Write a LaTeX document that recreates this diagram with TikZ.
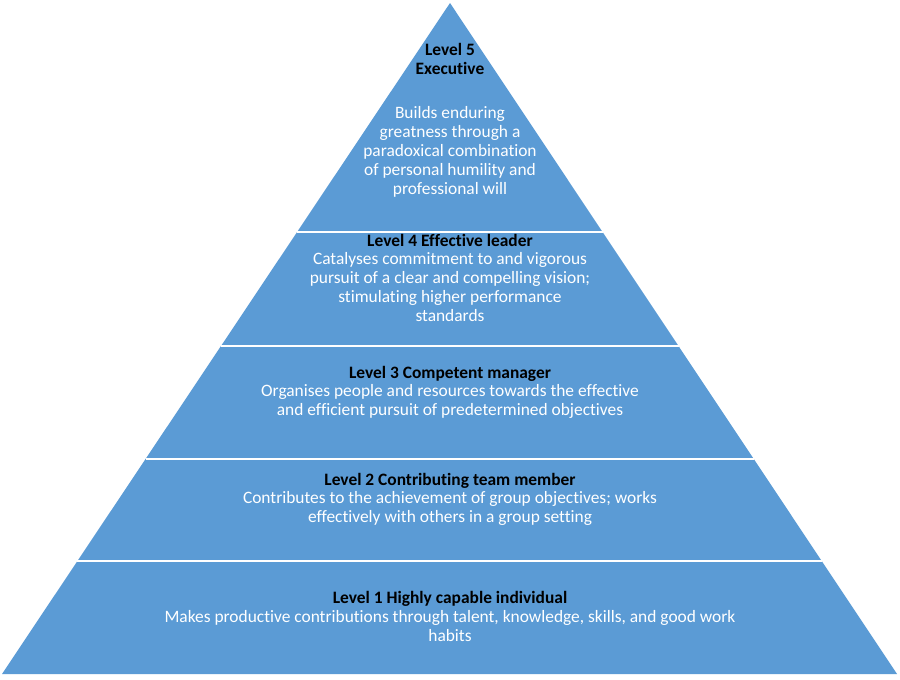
\documentclass[tikz,border=0pt]{standalone}
\usepackage{fontspec}
\setmainfont{Carlito}[Ligatures=NoCommon]
\usetikzlibrary{calc}
\definecolor{pyrblue}{HTML}{5B9BD5}
\tikzset{
  txt/.style={inner sep=0pt, align=center},
  ttl/.style={txt, text=black, font=\fontsize{17.4}{19}\selectfont\bfseries},
  bdy/.style={txt, text=white, font=\fontsize{17.4}{19}\selectfont},
  sep/.style={draw=white, line width=1.6pt}
}
\begin{document}
\begin{tikzpicture}[x=1pt,y=-1pt]
\useasboundingbox[fill=white] (0,0) rectangle (900,680);
\coordinate (apex) at (450,3);
\coordinate (bl) at (2,674);
\coordinate (br) at (897,674);
\fill[pyrblue] (apex) -- (bl) -- (br) -- cycle;
\foreach \t/\n in {0.3413/a,0.5112/b,0.6796/c,0.8316/d}{
  \coordinate (l\n) at ($(apex)!\t!(bl)$);
  \coordinate (r\n) at ($(apex)!\t!(br)$);
  \draw[sep] (l\n) -- (r\n);
}
\node[ttl] (t5) at (450,59) {Level 5\\Executive};
\node[bdy] (b5) at (450,152) {Builds enduring\\greatness through a\\paradoxical combination\\of personal humility and\\professional will};
\node[ttl] (t4) at (450,240.5) {Level 4 Effective leader};
\node[bdy] (b4) at (450,287.5) {Catalyses commitment to and vigorous\\pursuit of a clear and compelling vision;\\stimulating higher performance\\standards};
\node[ttl] (t3) at (450,373.5) {Level 3 Competent manager};
\node[bdy] (b3) at (450,401.5) {Organises people and resources towards the effective\\and efficient pursuit of predetermined objectives};
\node[ttl] (t2) at (450,480.5) {Level 2 Contributing team member};
\node[bdy] (b2) at (450,508.5) {Contributes to the achievement of group objectives; works\\effectively with others in a group setting};
\node[ttl] (t1) at (450,598.5) {Level 1 Highly capable individual};
\node[bdy] (b1) at (450,626.5) {Makes productive contributions through talent, knowledge, skills, and good work\\habits};
\end{tikzpicture}
\end{document}
